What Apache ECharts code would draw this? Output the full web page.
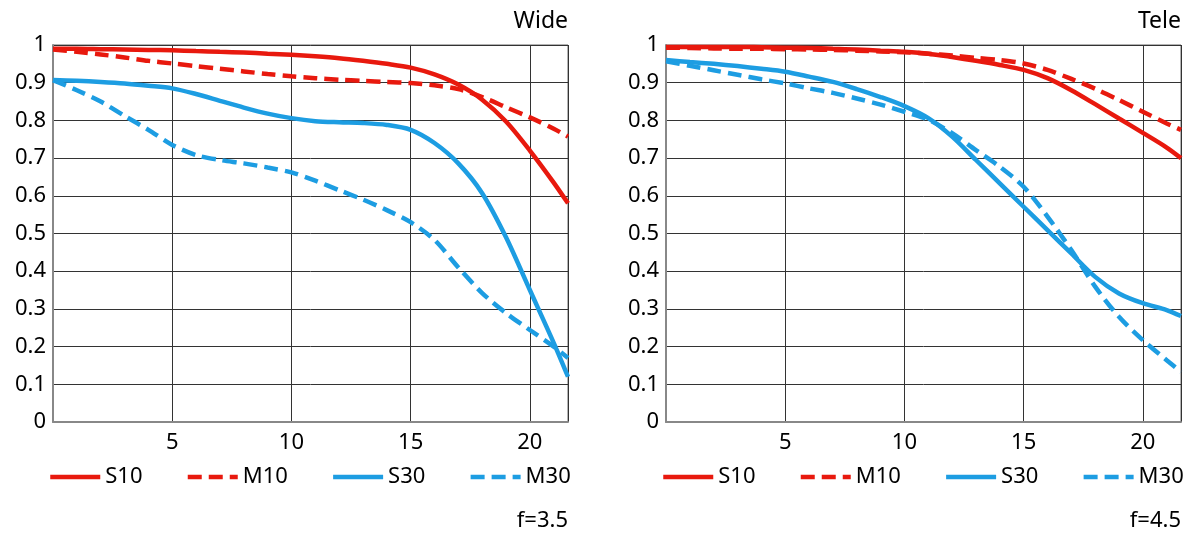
<!DOCTYPE html>
<html>
<head>
<meta charset="utf-8">
<script src="https://cdn.jsdelivr.net/npm/echarts@6/dist/echarts.min.js"></script>
<style>html,body{margin:0;padding:0;background:#fff}#c{width:1200px;height:538px}</style>
</head>
<body>
<div id="c"></div>
<script>
// Image height (mm from centre) sample positions
const xs = [0,1,2,3,4,5,6,7,8,9,10,11,12,13,14,15,16,17,18,19,20,21,21.6];
const yTicks = [0,0.1,0.2,0.3,0.4,0.5,0.6,0.7,0.8,0.9,1];
const seriesNames = ['S10','M10','S30','M30'];

// Wide (f=3.5)
const wideS10 = [0.99,0.99,0.989,0.988,0.987,0.986,0.984,0.982,0.98,0.977,0.974,0.970,0.965,0.958,0.950,0.940,0.922,0.895,0.855,0.797,0.72,0.635,0.58];
const wideM10 = [0.988,0.982,0.975,0.967,0.958,0.951,0.944,0.937,0.93,0.923,0.917,0.912,0.908,0.905,0.902,0.899,0.893,0.883,0.862,0.835,0.808,0.778,0.757];
const wideS30 = [0.907,0.905,0.902,0.898,0.892,0.885,0.87,0.852,0.834,0.818,0.806,0.798,0.795,0.793,0.788,0.775,0.74,0.686,0.607,0.49,0.35,0.21,0.12];
const wideM30 = [0.907,0.88,0.85,0.812,0.775,0.735,0.708,0.695,0.686,0.675,0.662,0.64,0.615,0.59,0.562,0.53,0.483,0.41,0.342,0.289,0.244,0.2,0.17];

// Tele (f=4.5)
const teleS10 = [0.995,0.995,0.995,0.995,0.994,0.993,0.992,0.99,0.988,0.985,0.982,0.977,0.968,0.958,0.947,0.934,0.912,0.88,0.843,0.805,0.767,0.728,0.70];
const teleM10 = [0.993,0.992,0.991,0.99,0.99,0.989,0.988,0.987,0.985,0.983,0.981,0.977,0.972,0.966,0.96,0.951,0.934,0.91,0.884,0.854,0.823,0.792,0.775];
const teleS30 = [0.96,0.955,0.95,0.944,0.937,0.929,0.916,0.902,0.883,0.862,0.838,0.806,0.757,0.695,0.633,0.571,0.509,0.447,0.385,0.341,0.315,0.297,0.281];
const teleM30 = [0.957,0.945,0.933,0.921,0.909,0.898,0.885,0.873,0.858,0.842,0.823,0.802,0.766,0.721,0.677,0.624,0.545,0.456,0.359,0.279,0.217,0.164,0.133];

const titles = ['Wide','Tele'];
const fnums = ['f=3.5','f=4.5'];

const RED = '#e8190e', BLUE = '#1d9de2';
const FONT = 'Noto Sans';
const styles = {
  S10: {color: RED, type: 'solid'},
  M10: {color: RED, type: [14, 7]},
  S30: {color: BLUE, type: 'solid'},
  M30: {color: BLUE, type: [14, 7]}
};
const dataSets = [
  {S10: wideS10, M10: wideM10, S30: wideS30, M30: wideM30},
  {S10: teleS10, M10: teleM10, S30: teleS30, M30: teleM30}
];

const gridLefts = [53, 666];
const grids = gridLefts.map(l => ({left: l, top: 45, width: 515, height: 377, show: true, borderColor: '#666', borderWidth: 1, backgroundColor: 'transparent'}));

const xAxes = [0,1].map(i => ({
  type: 'value', gridIndex: i, min: 0, max: 21.6, interval: 5,
  axisLine: {show: true, lineStyle: {color: '#888', width: 2}},
  axisTick: {show: false},
  splitLine: {show: true, lineStyle: {color: '#333', width: 1}},
  axisLabel: {
    color: '#000', fontSize: 22, fontFamily: FONT, margin: 10,
    formatter: v => (v > 0 && Math.abs(v % 5) < 1e-9) ? String(v) : ''
  }
}));
const yAxes = [0,1].map(i => ({
  type: 'value', gridIndex: i, min: 0, max: 1, interval: 0.1,
  axisLine: {show: true, lineStyle: {color: '#888', width: 2}},
  axisTick: {show: false},
  splitLine: {show: true, lineStyle: {color: '#333', width: 1}},
  axisLabel: {
    color: '#000', fontSize: 22, fontFamily: FONT, margin: 7,
    formatter: v => {
      const t = yTicks.find(k => Math.abs(k - v) < 1e-6);
      if (t === undefined) return '';
      return (t === 0 || t === 1) ? String(t) : t.toFixed(1);
    }
  }
}));

const series = [];
[0,1].forEach(i => {
  seriesNames.forEach(n => {
    series.push({
      name: n, type: 'line', xAxisIndex: i, yAxisIndex: i,
      data: xs.map((x, k) => [x, dataSets[i][n][k]]),
      smooth: 0.3, symbol: 'none', showSymbol: false,
      lineStyle: {color: styles[n].color, width: 4.5, type: styles[n].type},
      itemStyle: {color: styles[n].color},
      emphasis: {disabled: true},
      silent: true
    });
  });
});

const legendLefts = [48, 661];
const legends = legendLefts.map(l => ({
  left: l, top: 466, padding: 0, orient: 'horizontal', itemWidth: 50, itemHeight: 14, itemGap: 43,
  data: seriesNames, selectedMode: false,
  itemStyle: {opacity: 0, borderWidth: 0},
  lineStyle: {width: 4.5},
  textStyle: {color: '#000', fontSize: 22, fontFamily: FONT}
}));

const titleComps = [];
[0,1].forEach(i => {
  const r = 1200 - (gridLefts[i] + 515);
  titleComps.push({text: titles[i], right: r, top: 10, padding: 0,
    textStyle: {color: '#000', fontSize: 23, fontWeight: 'normal', fontFamily: FONT}});
  titleComps.push({text: fnums[i], right: r, top: 510, padding: 0,
    textStyle: {color: '#000', fontSize: 22, fontWeight: 'normal', fontFamily: FONT}});
});

const chart = echarts.init(document.getElementById('c'), null, {renderer: 'canvas'});
chart.setOption({
  animation: false,
  backgroundColor: '#fff',
  title: titleComps,
  legend: legends,
  grid: grids,
  xAxis: xAxes,
  yAxis: yAxes,
  series: series
});
</script>
</body>
</html>
